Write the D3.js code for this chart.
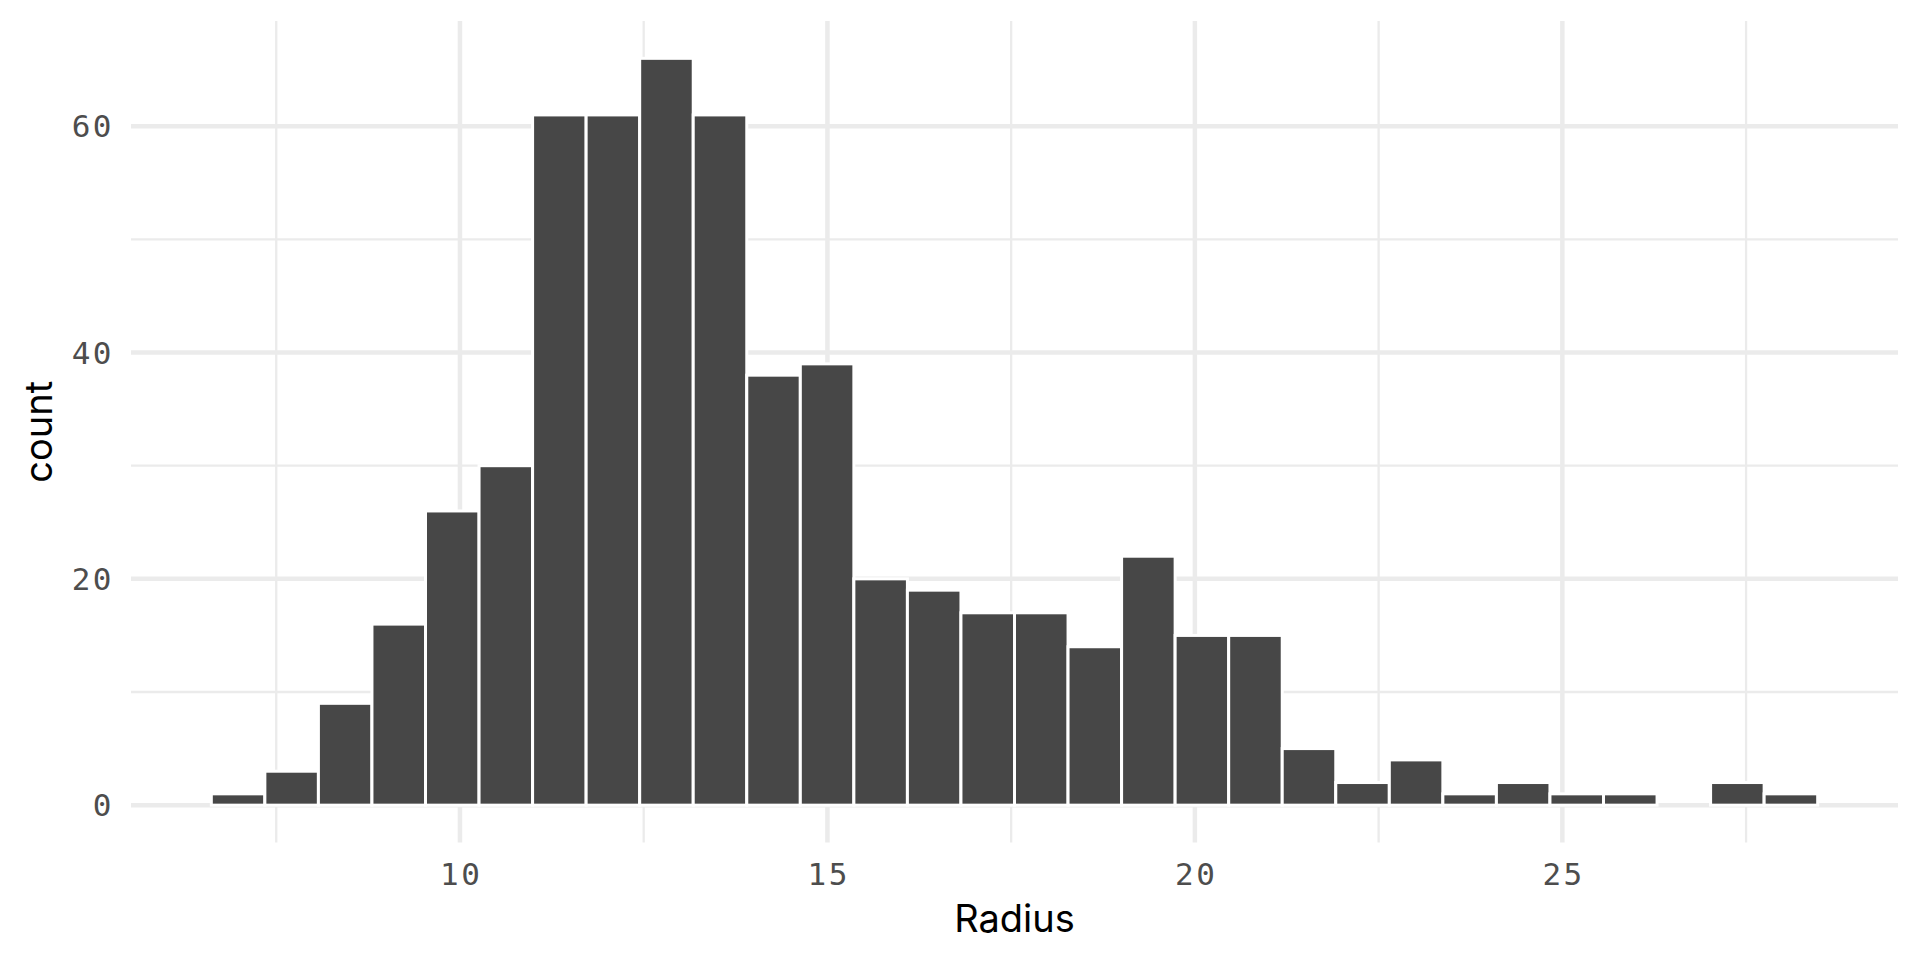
<!DOCTYPE html>
<html>
<head>
<meta charset="utf-8">
<script src="https://cdn.jsdelivr.net/npm/d3@7"></script>
<style>
    body { margin: 0; background: white; }
    .tick-label { font-family: 'DejaVu Sans Mono', monospace; font-size: 31px; letter-spacing: 2.5px; fill: #4d4d4d; }
    .axis-title { font-family: Inter, sans-serif; font-size: 38px; fill: black; }
</style>
</head>
<body>
<div id="chart"></div>
<script>
// histogram counts, 30 bins from min to max radius
const radiusRange = [6.981, 28.11];
const counts = [1, 3, 9, 16, 26, 30, 61, 61, 66, 61, 38, 39, 20, 19, 17, 17, 14, 22, 15, 15, 5, 2, 4, 1, 2, 1, 1, 0, 2, 1];
const xMajor = [10, 15, 20, 25];
const xMinor = [7.5, 12.5, 17.5, 22.5, 27.5];
const yMajor = [0, 20, 40, 60];
const yMinor = [10, 30, 50];

const width = 1920, height = 960;
const panel = {left: 131, right: 1898, top: 21, bottom: 842.5};

const binWidth = (radiusRange[1] - radiusRange[0]) / (counts.length - 1);
const bins = counts.map((c, i) => ({
    x0: radiusRange[0] - binWidth / 2 + i * binWidth,
    x1: radiusRange[0] + binWidth / 2 + i * binWidth,
    count: c
}));

// ggplot style 5% expansion
const xLo = bins[0].x0, xHi = bins[bins.length - 1].x1;
const xPad = (xHi - xLo) * 0.05;
const yMax = d3.max(counts), yPad = yMax * 0.05;

const x = d3.scaleLinear()
    .domain([xLo - xPad, xHi + xPad])
    .range([panel.left, panel.right]);
const y = d3.scaleLinear()
    .domain([-yPad, yMax + yPad])
    .range([panel.bottom, panel.top]);

const svg = d3.select('#chart')
    .append('svg')
    .attr('width', width)
    .attr('height', height);

// grid lines
const grid = svg.append('g').attr('stroke', '#ebebeb');
grid.selectAll('.xminor')
    .data(xMinor)
    .enter()
    .append('line')
    .attr('x1', d => x(d)).attr('x2', d => x(d))
    .attr('y1', panel.top).attr('y2', panel.bottom)
    .attr('stroke-width', 2.3);
grid.selectAll('.yminor')
    .data(yMinor)
    .enter()
    .append('line')
    .attr('x1', panel.left).attr('x2', panel.right)
    .attr('y1', d => y(d)).attr('y2', d => y(d))
    .attr('stroke-width', 2.3);
grid.selectAll('.xmajor')
    .data(xMajor)
    .enter()
    .append('line')
    .attr('x1', d => x(d)).attr('x2', d => x(d))
    .attr('y1', panel.top).attr('y2', panel.bottom)
    .attr('stroke-width', 4.5);
grid.selectAll('.ymajor')
    .data(yMajor)
    .enter()
    .append('line')
    .attr('x1', panel.left).attr('x2', panel.right)
    .attr('y1', d => y(d)).attr('y2', d => y(d))
    .attr('stroke-width', 4.5);

// bars
svg.append('g')
    .selectAll('rect')
    .data(bins)
    .enter()
    .append('rect')
    .attr('x', d => x(d.x0))
    .attr('y', d => y(d.count))
    .attr('width', d => x(d.x1) - x(d.x0))
    .attr('height', d => y(0) - y(d.count))
    .attr('fill', '#474747')
    .attr('stroke', 'white')
    .attr('stroke-width', 3);

// tick labels
svg.append('g')
    .selectAll('text')
    .data(yMajor)
    .enter()
    .append('text')
    .attr('class', 'tick-label')
    .attr('x', 114)
    .attr('y', d => y(d))
    .attr('dy', '0.36em')
    .attr('text-anchor', 'end')
    .text(d => d);
svg.append('g')
    .selectAll('text')
    .data(xMajor)
    .enter()
    .append('text')
    .attr('class', 'tick-label')
    .attr('x', d => x(d) + 1.25)
    .attr('y', 885)
    .attr('text-anchor', 'middle')
    .text(d => d);

// axis titles
svg.append('text')
    .attr('class', 'axis-title')
    .attr('text-anchor', 'middle')
    .attr('x', (panel.left + panel.right) / 2)
    .attr('y', 932)
    .text('Radius');
svg.append('text')
    .attr('class', 'axis-title')
    .attr('text-anchor', 'middle')
    .attr('transform', `translate(52, ${(panel.top + panel.bottom) / 2}) rotate(-90)`)
    .text('count');
</script>
</body>
</html>
